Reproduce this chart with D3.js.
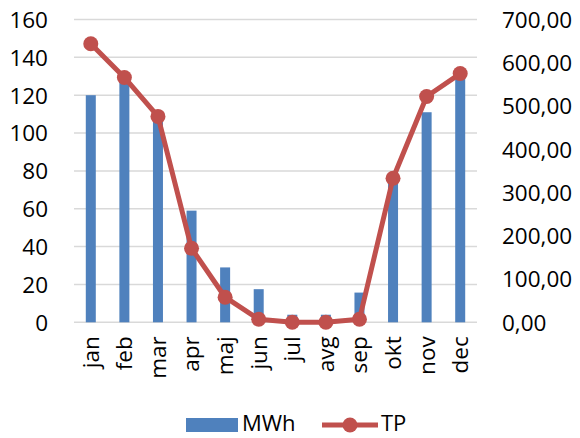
<!DOCTYPE html>
<html>
<head>
<meta charset="utf-8">
<script src="https://cdn.jsdelivr.net/npm/d3@7"></script>
<style>
body { margin: 0; background: #fff; }
text { font-family: "Open Sans", "Liberation Sans", sans-serif; fill: #000; }
</style>
</head>
<body>
<div id="plot"></div>
<script>
// data
var months = ['jan','feb','mar','apr','maj','jun','jul','avg','sep','okt','nov','dec'];
var mwh = [120, 127, 107, 59, 29, 17.5, 4, 4, 15.7, 75, 111, 131];
var tp = [644, 566, 476, 171, 58, 7, 0, 0, 7, 333, 522, 575];
var leftTicks = [0, 20, 40, 60, 80, 100, 120, 140, 160];
var rightTicks = [0, 100, 200, 300, 400, 500, 600, 700];

var width = 580, height = 438;
var plotLeft = 74, plotRight = 477, plotTop = 19.5, plotBottom = 322.3;
var fs = '22.5px';

var svg = d3.select('#plot')
    .append('svg')
    .attr('width', width)
    .attr('height', height);

var x = d3.scaleBand().domain(months).range([plotLeft, plotRight]);
var yL = d3.scaleLinear().domain([0, 160]).range([plotBottom, plotTop]);
var yR = d3.scaleLinear().domain([0, 700]).range([plotBottom, plotTop]);

// gridlines
svg.append('g')
    .selectAll('line')
    .data(leftTicks)
    .enter()
    .append('line')
    .attr('x1', plotLeft)
    .attr('x2', plotRight)
    .attr('y1', function(d){ return yL(d); })
    .attr('y2', function(d){ return yL(d); })
    .style('stroke', '#d9d9d9')
    .style('stroke-width', '1.5px');

// left axis
var axL = svg.append('g')
    .attr('transform', 'translate(' + (plotLeft - 26) + ',0)')
    .call(d3.axisLeft(yL).tickValues(leftTicks).tickSize(0).tickPadding(0));
axL.select('.domain').remove();
axL.selectAll('text').style('font-size', fs).attr('dy', '0.35em');

// right axis
var axR = svg.append('g')
    .attr('transform', 'translate(' + (plotRight + 25) + ',0)')
    .call(d3.axisRight(yR).tickValues(rightTicks).tickSize(0).tickPadding(0)
        .tickFormat(function(d){ return d3.format('.2f')(d).replace('.', ','); }));
axR.select('.domain').remove();
axR.selectAll('text').style('font-size', fs).attr('dy', '0.35em');

// bottom axis (rotated labels)
var axB = svg.append('g')
    .attr('transform', 'translate(0,' + (plotBottom + 14) + ')')
    .call(d3.axisBottom(x).tickSize(0).tickPadding(0));
axB.select('.domain').remove();
axB.selectAll('text')
    .style('font-size', fs)
    .attr('text-anchor', 'end')
    .attr('transform', 'rotate(-90)')
    .attr('x', 0)
    .attr('y', 0)
    .attr('dy', '0.35em');

// bars
var bw = 10;
svg.append('g')
    .selectAll('rect')
    .data(mwh)
    .enter()
    .append('rect')
    .attr('x', function(d, i){ return x(months[i]) + x.bandwidth() / 2 - bw / 2; })
    .attr('y', function(d){ return yL(d); })
    .attr('width', bw)
    .attr('height', function(d){ return plotBottom - yL(d); })
    .style('fill', '#4f81bd');

// line
var line = d3.line()
    .x(function(d, i){ return x(months[i]) + x.bandwidth() / 2; })
    .y(function(d){ return yR(d); });

svg.append('path')
    .datum(tp)
    .attr('d', line)
    .style('fill', 'none')
    .style('stroke', '#c0504d')
    .style('stroke-width', '5px')
    .style('stroke-linejoin', 'round');

svg.append('g')
    .selectAll('circle')
    .data(tp)
    .enter()
    .append('circle')
    .attr('cx', function(d, i){ return x(months[i]) + x.bandwidth() / 2; })
    .attr('cy', function(d){ return yR(d); })
    .attr('r', 7.5)
    .style('fill', '#c0504d');

// legend
var legend = svg.append('g');
legend.append('rect')
    .attr('x', 186)
    .attr('y', 418)
    .attr('width', 52)
    .attr('height', 14)
    .style('fill', '#4f81bd');
legend.append('text')
    .attr('x', 242)
    .attr('y', 431)
    .style('font-size', '22px')
    .text('MWh');
legend.append('line')
    .attr('x1', 322)
    .attr('x2', 378)
    .attr('y1', 425)
    .attr('y2', 425)
    .style('stroke', '#c0504d')
    .style('stroke-width', '5px');
legend.append('circle')
    .attr('cx', 350)
    .attr('cy', 425)
    .attr('r', 7.5)
    .style('fill', '#c0504d');
legend.append('text')
    .attr('x', 381)
    .attr('y', 431)
    .style('font-size', '22px')
    .text('TP');
</script>
</body>
</html>
